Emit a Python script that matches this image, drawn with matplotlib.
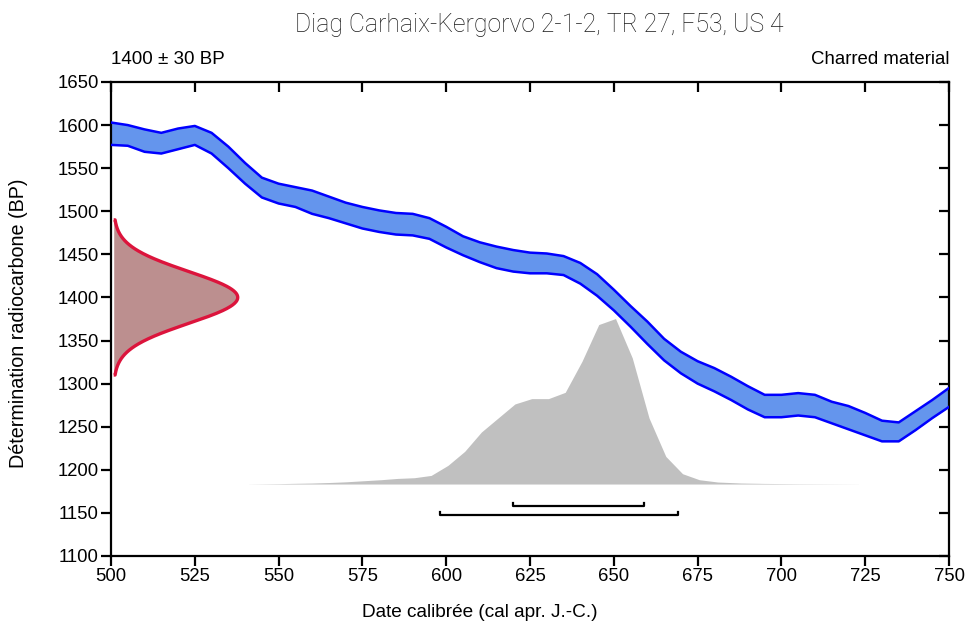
import numpy as np
import matplotlib
matplotlib.use("Agg")
import matplotlib.pyplot as plt

# Calibration curve (IntCal), 1-sigma envelope
CAL_YEARS = [500, 505, 510, 515, 520, 525, 530, 535, 540, 545, 550, 555, 560,
             565, 570, 575, 580, 585, 590, 595, 600, 605, 610, 615, 620, 625,
             630, 635, 640, 645, 650, 655, 660, 665, 670, 675, 680, 685, 690,
             695, 700, 705, 710, 715, 720, 725, 730, 735, 740, 745, 750]
CURVE_UPPER = [1603, 1600, 1595, 1591, 1596, 1599, 1591, 1575, 1556, 1539,
               1532, 1528, 1524, 1517, 1510, 1505, 1501, 1498, 1497, 1492,
               1482, 1471, 1464, 1459, 1455, 1452, 1451, 1448, 1440, 1427,
               1409, 1390, 1372, 1352, 1337, 1326, 1318, 1308, 1297, 1287,
               1287, 1289, 1287, 1279, 1274, 1266, 1257, 1255, 1268, 1281, 1295]
CURVE_LOWER = [1577, 1576, 1569, 1567, 1572, 1577, 1567, 1550, 1532, 1516,
               1509, 1505, 1497, 1492, 1486, 1480, 1476, 1473, 1472, 1468,
               1458, 1449, 1441, 1434, 1430, 1428, 1428, 1426, 1416, 1402,
               1385, 1366, 1346, 1327, 1312, 1300, 1291, 1281, 1270, 1261,
               1261, 1263, 1261, 1254, 1247, 1240, 1233, 1233, 1246, 1260, 1273]

# Radiocarbon measurement
BP_MEAN = 1400
BP_SIGMA = 30

# Calibrated probability (relative heights)
PROB_YEARS = [541, 545, 550, 555, 560, 565, 570, 575, 580.5, 585.5, 590.5,
              595.5, 600.5, 605.5, 610.5, 615.5, 620.5, 625.5, 630.5, 635.5,
              640.5, 645.5, 650.5, 655.5, 660.5, 665.5, 670.5, 675.5, 681,
              688, 695, 705, 715, 723]
PROB = [0.05, 0.2, 0.4, 0.7, 1.0, 1.5, 2.2, 3.2, 4.3, 5.6, 6.3, 8.6, 18.6,
        32.6, 52, 66, 80, 85.3, 85.3, 91.6, 122.6, 159.3, 165.3, 126, 66,
        27.6, 10.3, 4.3, 2.0, 1.0, 0.6, 0.3, 0.15, 0.05]

# Calibrated ranges
RANGE_68 = (620, 659)
RANGE_95 = (598, 669)

fig = plt.figure(figsize=(9.68, 6.24), dpi=100)
ax = fig.add_axes([0.1147, 0.109, 0.8657, 0.7596])

# calibration band
ax.fill_between(CAL_YEARS, CURVE_LOWER, CURVE_UPPER, color="#6495ED", lw=0, zorder=2)
ax.plot(CAL_YEARS, CURVE_UPPER, color="#0000FF", lw=1.8, zorder=3)
ax.plot(CAL_YEARS, CURVE_LOWER, color="#0000FF", lw=1.8, zorder=3)

# calibrated distribution
base = 1183.5
prob = np.array(PROB)
ax.fill_between(PROB_YEARS, base, base + prob / prob.max() * 192,
                color="#C0C0C0", lw=0, zorder=1)

# measurement on the BP axis
bp = np.linspace(BP_MEAN - 3 * BP_SIGMA, BP_MEAN + 3 * BP_SIGMA, 300)
g = np.exp(-0.5 * ((bp - BP_MEAN) / BP_SIGMA) ** 2)
x0 = 500.8
xg = x0 + g * 37
ax.fill_betweenx(bp, x0, xg, color="#BC8F8F", lw=0, zorder=4)
ax.plot(np.r_[x0, xg, x0], np.r_[bp[0], bp, bp[-1]], color="#DC143C", lw=2.4,
        zorder=5, solid_capstyle="butt")

# range brackets
for (lo, hi), y in [(RANGE_68, 1158), (RANGE_95, 1147.5)]:
    ax.plot([lo, lo, hi, hi], [y + 4, y, y, y + 4], color="black", lw=1.6,
            zorder=4)

ax.set_xlim(500, 750)
ax.set_ylim(1100, 1650)
ax.set_xticks(np.arange(500, 751, 25))
ax.set_yticks(np.arange(1100, 1651, 50))

font = ["Liberation Sans", "DejaVu Sans"]
for lab in ax.get_xticklabels() + ax.get_yticklabels():
    lab.set_family(font)
    lab.set_fontsize(13.3)

for s in ax.spines.values():
    s.set_linewidth(1.6)
ax.tick_params(axis="both", which="major", direction="out", length=7,
               width=1.6, pad=2)
ax.tick_params(top=True, right=True)
# ticks inward on top and right
for t in ax.xaxis.get_major_ticks():
    t.tick2line.set_marker(3)
    t.tick2line.set_markersize(7)
for t in ax.yaxis.get_major_ticks():
    t.tick2line.set_marker(0)
    t.tick2line.set_markersize(7)

fig.text(0.496, 0.019, "Date calibrée (cal apr. J.-C.)", ha="center",
         va="center", family=font, fontsize=13.7)
fig.text(0.019, 0.482, "Détermination radiocarbone (BP)", ha="center",
         va="center", rotation=90, family=font, fontsize=14.2)

ax.text(0, 1.03, "1400 ± 30 BP", transform=ax.transAxes, ha="left",
        va="bottom", family=font, fontsize=13.5)
ax.text(1, 1.03, "Charred material", transform=ax.transAxes, ha="right",
        va="bottom", family=font, fontsize=13.4)
fig.text(0.557, 0.96, "Diag Carhaix-Kergorvo 2-1-2, TR 27, F53, US 4",
         ha="center", va="center", family=["Roboto", "DejaVu Sans"],
         fontweight="light", fontsize=17.8, color="#1a1a1a")

fig.savefig("out.png", dpi=100)
